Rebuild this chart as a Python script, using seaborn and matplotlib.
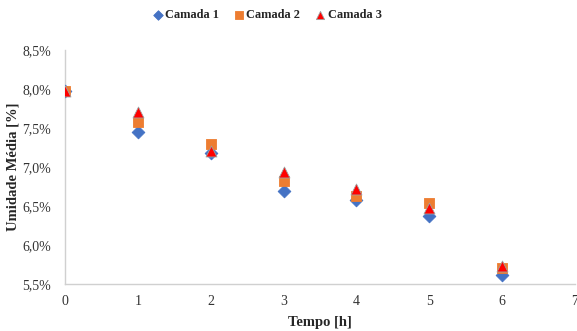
import matplotlib
matplotlib.use('Agg')
import matplotlib.pyplot as plt
from matplotlib.ticker import FuncFormatter, MultipleLocator
import seaborn as sns
import pandas as pd

tempo = [0, 1, 2, 3, 4, 5, 6]
camada1 = [7.98, 7.45, 7.18, 6.69, 6.58, 6.37, 5.62]
camada2 = [7.98, 7.58, 7.30, 6.82, 6.63, 6.54, 5.71]
camada3 = [7.98, 7.71, 7.21, 6.93, 6.72, 6.47, 5.73]
series = ['Camada 1', 'Camada 2', 'Camada 3']

df = pd.DataFrame({
    'Tempo': tempo * 3,
    'Umidade': camada1 + camada2 + camada3,
    'Camada': [s for s in series for _ in tempo],
})

sns.set_theme(style='white')
plt.rcParams['font.family'] = ['Liberation Serif', 'DejaVu Serif']

fig = plt.figure(figsize=(5.77, 3.31), dpi=100)
ax = fig.add_axes([0.113, 0.142, 0.883, 0.707])

colors = {'Camada 1': '#4472C4', 'Camada 2': '#ED7D31', 'Camada 3': '#FF0000'}
markers = {'Camada 1': 'D', 'Camada 2': 's', 'Camada 3': '^'}
sizes = {'Camada 1': 42, 'Camada 2': 62, 'Camada 3': 62}
edges = {'Camada 1': '#4472C4', 'Camada 2': '#ED7D31', 'Camada 3': '#A0A0A0'}

for s in series:
    sub = df[df['Camada'] == s]
    sns.scatterplot(data=sub, x='Tempo', y='Umidade', ax=ax, color=colors[s],
                    marker=markers[s], s=sizes[s], edgecolor=edges[s],
                    linewidth=0.6, label=s, zorder=3)

ax.set_xlim(0, 7)
ax.set_ylim(5.5, 8.5)
ax.xaxis.set_major_locator(MultipleLocator(1))
ax.yaxis.set_major_locator(MultipleLocator(0.5))
ax.yaxis.set_major_formatter(FuncFormatter(lambda v, p: f'{v:.1f}%'.replace('.', ',')))
ax.tick_params(axis='both', labelsize=10, length=0)
ax.tick_params(axis='y', pad=10)
ax.tick_params(axis='x', pad=8)
for lab in ax.get_xticklabels() + ax.get_yticklabels():
    lab.set_color('#333333')

for side in ['top', 'right']:
    ax.spines[side].set_visible(False)
for side in ['left', 'bottom']:
    ax.spines[side].set_color('#D0D0D0')
    ax.spines[side].set_linewidth(1)

ax.set_xlabel('Tempo [h]', fontsize=10.5, fontweight='bold', labelpad=6)
ax.set_ylabel('Umidade Média [%]', fontsize=10.5, fontweight='bold', labelpad=2)

ax.legend(loc='center', bbox_to_anchor=(0.461, 0.955), bbox_transform=fig.transFigure,
          ncol=3, frameon=False, prop={'weight': 'bold', 'size': 8.9},
          handletextpad=0.0, handlelength=1.2, columnspacing=1.0, markerscale=0.75)

fig.savefig('out.png', dpi=100)
